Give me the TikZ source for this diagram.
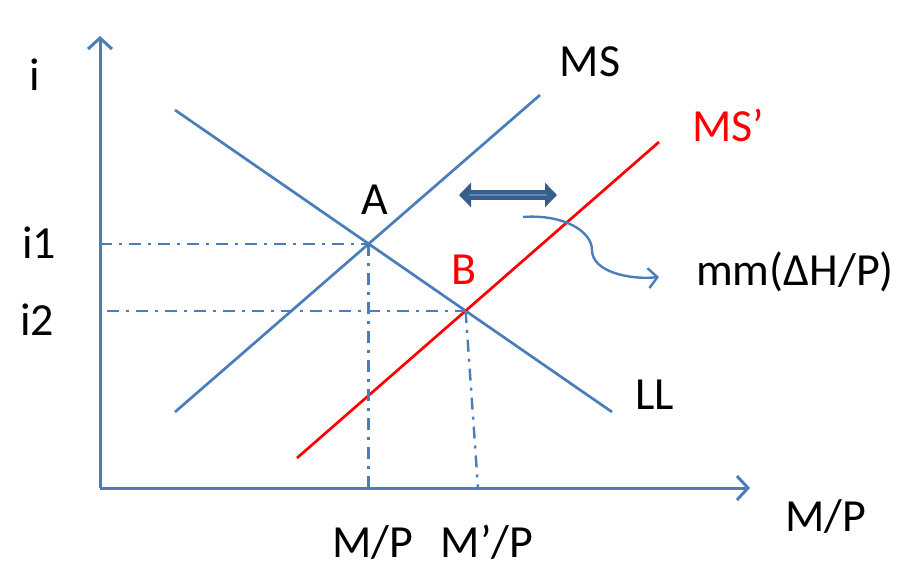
\documentclass[tikz,border=0pt]{standalone}
\usepackage{fontspec}
\setmainfont{Carlito}
\usetikzlibrary{arrows.meta,calc}
\definecolor{lblue}{HTML}{4A7EBB}
\definecolor{dblue}{HTML}{385D8A}
\definecolor{mblue}{HTML}{5B87BF}
\begin{document}
\begin{tikzpicture}[x=1pt,y=-1pt,
  curve/.style={draw=lblue,line width=2.7pt},
  redcurve/.style={draw=red,line width=2.7pt},
  axis/.style={draw=lblue,line width=3pt,-{Straight Barb[length=11pt,width=24pt,line width=3pt]}},
  guide/.style={draw=lblue,line width=2.4pt,dash pattern=on 12pt off 7pt on 3pt off 7pt},
  lbl/.style={font=\fontsize{46}{52}\selectfont,inner sep=0pt},
  rlbl/.style={lbl,text=red}]
\useasboundingbox (0,0) rectangle (899,565);
\coordinate (O) at (100,488);
\coordinate (ytop) at (100,36);
\coordinate (xend) at (750,488);
\draw[axis] (O) -- (ytop);
\draw[axis] (O) -- (xend);
% curves
\coordinate (ms1) at (175,412); \coordinate (ms2) at (540,95);
\coordinate (ll1) at (175,110); \coordinate (ll2) at (612,412);
\coordinate (msp1) at (297,458); \coordinate (msp2) at (659,142);
\draw[curve] (ms1) -- (ms2);
\draw[curve] (ll1) -- (ll2);
\draw[redcurve] (msp1) -- (msp2);
\coordinate (A) at (intersection of ms1--ms2 and ll1--ll2);
\coordinate (B) at (intersection of msp1--msp2 and ll1--ll2);
% guides
\coordinate (i1) at (A -| O);
\coordinate (i2) at ($(B -| O)+(7,0)$);
\coordinate (Ax) at (A |- O);
\coordinate (Bx) at (478,488);
\draw[guide] (i1) -- (A);
\draw[guide] (A) -- (Ax);
\draw[guide] (i2) -- (B);
\draw[guide] (B) -- (Bx);
% double arrow
\coordinate (d1) at (459,195); \coordinate (d2) at (557,195);
\draw[dblue,line width=10pt,{Triangle[length=12pt,width=24pt]}-{Triangle[length=12pt,width=24pt]}] (d1) -- (d2);
\draw[mblue,line width=2.4pt] ($(d1)+(10,0)$) -- ($(d2)+(-10,0)$);
% curved arrow
\coordinate (c1) at (523,217);
\coordinate (cm) at (592,250);
\coordinate (c2) at (659,277);
\draw[curve,line width=2.4pt,-{Straight Barb[length=9pt,width=20pt,line width=2.4pt]}] (c1) .. controls (565,214) and (592,232) .. (cm) .. controls (592,272) and (630,280) .. (c2);
% labels
\node[lbl] (li) at (35,75) {i};
\node[lbl] (li1) at (39,243) {i1};
\node[lbl] (li2) at (37,320) {i2};
\node[lbl] (lms) at (590,62) {MS};
\node[rlbl] (lmsp) at (728,125) {MS’};
\node[lbl] (la) at (375,200) {A};
\node[rlbl] (lb) at (464,270) {B};
\node[lbl] (lmm) at (795,272) {mm(ΔH/P)};
\node[lbl] (lll) at (655,395) {LL};
\node[lbl] (lmpx) at (826,516) {M/P};
\node[lbl] (lmp) at (373,542) {M/P};
\node[lbl] (lmpp) at (487,542) {M’/P};
\end{tikzpicture}
\end{document}
